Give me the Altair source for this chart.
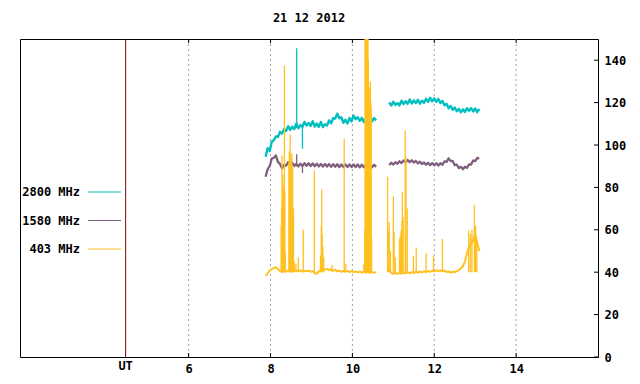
import altair as alt
import pandas as pd

# ---------------- data ----------------
title_text = "21 12 2012"
x_domain = [1.88, 16]
y_domain = [0, 150]
x_ticks = [6, 8, 10, 12, 14]
y_ticks = [0, 20, 40, 60, 80, 100, 120, 140]
ut_time = 4.46
ut_label = "UT"

series_names = ["2800 MHz", "1580 MHz", "403 MHz"]
series_colors = ["#00bfbf", "#7f5f7f", "#ffc020"]

seg1_start = 7.88
seg2_start = 10.90
step = 0.05

c2800_seg1 = [94.5, 98.5, 97.2, 101.5, 102.2, 104, 103.8, 106.2, 105.4, 107.5, 106.6, 108.9,
              107.1, 108.6, 107.5, 110.2, 107.9, 109.4, 108.5, 110.9, 109.2, 110.4, 109, 111.2,
              108.7, 110.1, 108.6, 110.9, 108.4, 109.8, 109.2, 111.6, 110.3, 112.6, 112.5, 114.8,
              112.6, 113.1, 110.5, 111.9, 110.2, 112.8, 111.1, 113.9, 112.2, 113.1, 111.4, 112.8,
              110.9, 112.5, 111.3, 113.4, 111.2, 112.7, 111.6]
c2800_seg2 = [120.1, 118.6, 120.4, 118.9, 119.8, 118.7, 120.9, 119.3, 120.6, 119.4, 121.5, 119.6,
              121, 119.8, 121.3, 119.5, 120.9, 119.9, 121.8, 120.3, 122.3, 120.6, 121.9, 120.4,
              121.7, 119.8, 120.8, 118.7, 119.4, 117.3, 118.4, 116.6, 117.7, 115.9, 117, 115.4,
              116.8, 115.6, 117.3, 116.1, 117.4, 115.8, 117.2, 115.5, 117]
c2800_spike_t = [8.64, 8.78]
c2800_spike_lo = [108, 98.2]
c2800_spike_hi = [145.6, 110]

c1580_seg1 = [85, 88.6, 90, 93.6, 94, 95.1, 92, 91.1, 89, 90.6, 90.2, 91.9, 90.6, 91.6, 90.1,
              91.1, 89.9, 91.2, 90.1, 91.4, 90.2, 91.4, 90.1, 91.3, 90, 91.2, 89.9, 91.1, 89.8,
              91, 89.8, 91, 89.7, 90.9, 89.7, 90.9, 89.6, 90.8, 89.6, 90.8, 89.6, 90.8, 89.6,
              90.8, 89.6, 90.8, 89.5, 90.7, 89.5, 90.7, 89.5, 90.7, 89.5, 90.7, 89.7]
c1580_seg2 = [90.6, 91.6, 90.8, 91.9, 91.1, 92.3, 91.5, 92.7, 91.8, 92.9, 91.9, 92.8, 91.7,
              92.5, 91.3, 92.1, 91, 91.8, 90.7, 91.6, 90.5, 91.5, 90.4, 91.4, 90.3, 91.4, 90.7,
              92.3, 92, 93.7, 92.4, 92.5, 90.5, 90.7, 89.1, 89.7, 88.6, 89.8, 89.2, 90.9, 90.8,
              92.7, 92.4, 93.9, 93.5]
c1580_spike_t = [8.64, 8.78]
c1580_spike_lo = [90, 86.8]
c1580_spike_hi = [95.6, 91]

c403_seg1 = [38.3, 39.5, 40.8, 41.5, 42, 42.3, 41.5, 40.5, 40.2, 40.8, 40.3, 40.9, 40.4, 41,
             40.5, 40.9, 40.4, 40.8, 40.3, 40.7, 40.4, 40.8, 40.2, 40.5, 39.6, 39.3, 40.3, 41.2,
             41.6, 41.2, 41.6, 41, 41.4, 40.7, 41.1, 40.4, 40.8, 40.2, 40.6, 40.2, 40.6, 40.1,
             40.5, 40, 40.4, 39.9, 40.3, 39.8, 40.2, 39.8, 40.2, 39.7, 40.1, 39.7, 40]
c403_seg2 = [40.8, 39.8, 39.2, 39.6, 39.2, 39.7, 39.3, 39.8, 39.4, 39.9, 39.5, 40, 39.6, 40.2,
             39.8, 40.3, 39.9, 40.4, 40, 40.5, 40.2, 40.7, 40.4, 40.9, 40.5, 40.9, 40.4, 40.7,
             40.1, 40.3, 39.8, 40.2, 40, 40.5, 41, 41.8, 42.8, 45, 49, 52, 53.5, 55, 58, 54, 50]
c403_spike_base = 40
c403_spike_t = [8.26, 8.27, 8.28, 8.29, 8.30, 8.31, 8.32, 8.33, 8.34, 8.35, 8.36,
                8.45, 8.46, 8.47, 8.48, 8.49, 8.50, 8.51, 8.52, 8.53, 8.54,
                8.56, 8.58, 8.62, 8.68, 8.80, 9.07, 9.22, 9.24, 9.25, 9.26, 9.28, 9.30,
                9.50, 9.80, 9.84,
                10.28, 10.30, 10.31, 10.32, 10.33, 10.34, 10.35, 10.36, 10.37, 10.38,
                10.39, 10.40, 10.41, 10.42, 10.43, 10.44, 10.45, 10.46, 10.47,
                10.86, 10.88, 10.90, 10.93, 11.00, 11.02, 11.05,
                11.15, 11.16, 11.17, 11.18, 11.19, 11.20, 11.21, 11.22, 11.24,
                11.29, 11.31, 11.34, 11.49, 11.56, 11.80, 11.98, 12.20,
                12.84, 12.88, 12.92, 12.98, 13.01, 13.04]
c403_spike_peak = [62, 70, 95, 72, 86, 68, 80, 60, 137.5, 78, 50,
                   92, 97, 88, 105, 95, 93, 90, 96, 85, 90,
                   70, 45, 44, 47, 60, 88, 48, 62, 79, 58, 52, 47,
                   43.5, 103, 44,
                   44, 60, 155, 160, 160, 160, 150, 56, 160, 160,
                   140, 90, 110, 127, 100, 130, 120, 118, 56,
                   85, 59.6, 63.6, 50, 75.7, 59, 47,
                   55, 56, 57, 55, 59.6, 60, 64, 77.8, 66,
                   107, 94.3, 70, 47.8, 51.7, 48.9, 47.6, 55.7,
                   59.6, 58, 60, 71.8, 62, 55]

# ---------------- tables ----------------
def seg_frame(start, values, seg):
    return pd.DataFrame({"t": [start + i * step for i in range(len(values))],
                         "v": values, "seg": seg})

line_tables = [
    pd.concat([seg_frame(seg1_start, c2800_seg1, "a"), seg_frame(seg2_start, c2800_seg2, "b")]),
    pd.concat([seg_frame(seg1_start, c1580_seg1, "a"), seg_frame(seg2_start, c1580_seg2, "b")]),
    pd.concat([seg_frame(seg1_start, c403_seg1, "a"), seg_frame(seg2_start, c403_seg2, "b")]),
]
n403 = min(len(c403_spike_t), len(c403_spike_peak))
spike_tables = [
    pd.DataFrame({"t": c2800_spike_t, "lo": c2800_spike_lo, "hi": c2800_spike_hi}),
    pd.DataFrame({"t": c1580_spike_t, "lo": c1580_spike_lo, "hi": c1580_spike_hi}),
    pd.DataFrame({"t": c403_spike_t[:n403], "lo": [c403_spike_base] * n403,
                  "hi": c403_spike_peak[:n403]}),
]
line_widths = [2.4, 2.3, 2.0]

# ---------------- layout ----------------
W, H = 578, 318
FONT = "DejaVu Sans Mono"
FS = 12

x_scale = alt.Scale(domain=x_domain, nice=False, zero=False)
y_scale = alt.Scale(domain=y_domain, nice=False, zero=False, clamp=True)
x_axis = alt.Axis(values=x_ticks, ticks=False, domain=False, grid=False, labelPadding=6,
                  labelFont=FONT, labelFontSize=FS, labelFontWeight="bold", labelColor="black",
                  labelFlush=False, title=None)
y_axis = alt.Axis(values=y_ticks, orient="right", ticks=False, domain=False, grid=False,
                  labelPadding=6, labelFont=FONT, labelFontSize=FS, labelFontWeight="bold",
                  labelColor="black", labelFlush=False, title=None)


def X(field):
    return alt.X(field, type="quantitative", scale=x_scale, axis=x_axis)


def Y(field):
    return alt.Y(field, type="quantitative", scale=y_scale, axis=y_axis)


layers = []
xt = pd.DataFrame({"x": x_ticks})
yt = pd.DataFrame({"y": y_ticks})

# dashed grid
layers.append(alt.Chart(xt).mark_rule(color="#a0a0a0", strokeDash=[2, 3], strokeWidth=1).encode(
    x=X("x"), y=alt.value(0), y2=alt.value(H)))
# inward ticks (bottom, top, right)
layers.append(alt.Chart(xt).mark_rule(color="black", strokeWidth=1).encode(
    x=X("x"), y=alt.value(H), y2=alt.value(H - 4)))
layers.append(alt.Chart(xt).mark_rule(color="black", strokeWidth=1).encode(
    x=X("x"), y=alt.value(0), y2=alt.value(4)))
layers.append(alt.Chart(yt).mark_rule(color="black", strokeWidth=1).encode(
    y=Y("y"), x=alt.value(W), x2=alt.value(W - 4)))

# UT marker
ut_df = pd.DataFrame({"x": [ut_time], "label": [ut_label]})
layers.append(alt.Chart(ut_df).mark_rule(color="#8b0000", strokeWidth=1).encode(
    x=X("x"), y=alt.value(0), y2=alt.value(H)))
layers.append(alt.Chart(ut_df).mark_text(font=FONT, fontSize=FS, fontWeight="bold",
                                         baseline="top", color="black").encode(
    x=X("x"), y=alt.value(H + 4), text="label:N"))

# data lines
for tbl, spk, col, lw in zip(line_tables, spike_tables, series_colors, line_widths):
    layers.append(alt.Chart(spk).mark_rule(color=col, strokeWidth=1.3).encode(
        x=X("t"), y=Y("lo"), y2="hi"))
    layers.append(alt.Chart(tbl).mark_line(color=col, strokeWidth=lw, strokeJoin="round").encode(
        x=X("t"), y=Y("v"), detail="seg:N", order="t:Q"))

# legend
for i, (name, col) in enumerate(zip(series_names, series_colors)):
    ly = 153 + 28.5 * i
    ldf = pd.DataFrame({"label": [name]})
    layers.append(alt.Chart(ldf).mark_text(font=FONT, fontSize=FS, fontWeight="bold",
                                           align="right", baseline="middle", color="black").encode(
        x=alt.value(60), y=alt.value(ly), text="label:N"))
    layers.append(alt.Chart(ldf).mark_rule(color=col, strokeWidth=1).encode(
        x=alt.value(68), x2=alt.value(101), y=alt.value(ly)))

# title
tdf = pd.DataFrame({"label": [title_text]})
layers.append(alt.Chart(tdf).mark_text(font=FONT, fontSize=FS, fontWeight="bold",
                                       align="center", baseline="middle", color="black").encode(
    x=alt.value(W / 2), y=alt.value(-21), text="label:N"))

chart = alt.layer(*layers).properties(
    width=W, height=H,
    background="white",
    autosize=alt.AutoSizeParams(type="none"),
    padding={"left": 12, "top": 31, "right": 34, "bottom": 19},
).configure_view(stroke="black", strokeWidth=1)

chart.save("out.html", embed_options={"renderer": "svg", "actions": False})
